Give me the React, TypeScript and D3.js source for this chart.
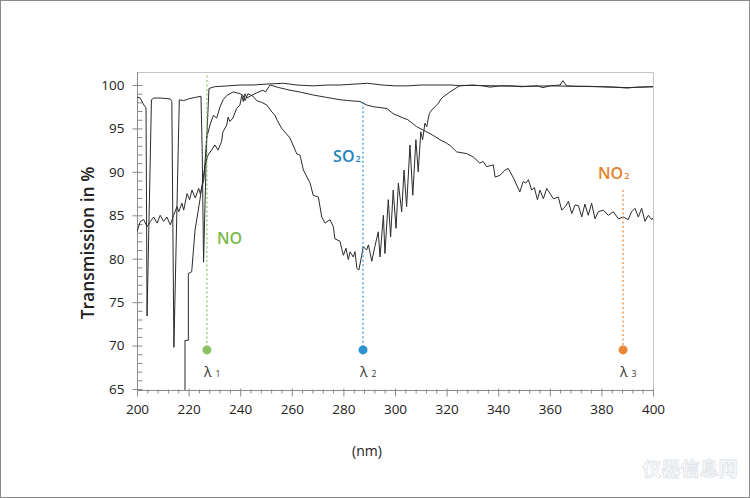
import React, { useEffect, useRef } from 'react';
import * as d3 from 'd3';

type Pt = [number, number];

// wavelength (nm), transmission (%)
const noSeries: Pt[] = [
    [200, 98.6], [201.2, 98.5], [202.3, 97.9], [203.1, 97.5], [203.5, 97.4],
    [203.9, 73.4], [205.6, 98.3], [206.5, 98.5], [209, 98.5], [212.9, 98.4],
    [213.5, 98.1], [214.3, 69.8], [216.4, 98.3], [218, 98.2], [220, 98.4],
    [223, 98.6], [224.8, 98.7], [225.3, 92], [225.8, 79.6], [227.0, 93.7],
    [227.9, 99.6], [230, 99.8], [235, 99.9], [240, 100.0], [245, 100.0],
    [250, 100.1], [256.7, 100.2], [262, 100.0], [268.2, 99.9], [274, 100.0],
    [278.7, 100.0], [284, 100.1], [289.5, 100.2], [295, 100.0], [300, 99.9],
    [305, 99.9], [310, 100.0], [317.4, 100.0], [322, 100.0], [325.2, 99.9],
    [330.2, 100.0], [334, 99.9], [336.8, 99.75], [340.7, 99.9], [345, 99.9],
    [349, 99.8], [355, 99.9], [357.4, 99.7], [360, 99.9], [364, 100.0],
    [365.1, 100.5], [366.5, 99.9], [370, 99.85], [375, 99.85], [380, 99.8],
    [385, 99.75], [389.9, 99.65], [394, 99.75], [398.8, 99.8], [400, 99.8],
];

const so2Series: Pt[] = [
    [200, 83.1], [201.3, 84.3], [202.6, 84.5], [203.9, 83.7], [205.2, 84.3],
    [206.5, 84.8], [207.8, 84.1], [209.0, 85.0], [210.3, 84.3], [211.6, 84.8],
    [212.9, 83.9], [214.2, 85.0], [215.5, 86.0], [216.2, 85.4], [217.4, 86.4],
    [218.1, 85.6], [219.4, 87.5], [220.4, 86.8], [221.3, 87.9], [222.6, 87.0],
    [223.9, 88.1], [224.5, 87.5], [225.9, 89.1], [227.0, 93.9], [228.3, 95.4],
    [229.6, 96.5], [230.9, 96.2], [232.2, 97.5], [233.4, 98.3], [234.8, 98.8],
    [237.3, 99.2], [239.9, 99.0], [241.1, 98.8], [241.9, 98.2], [243.0, 99.0],
    [245.0, 98.7], [246.4, 98.2], [248.3, 98.0], [250.3, 97.7], [252.0, 97.0],
    [253.5, 96.5], [254.2, 96.0], [256.1, 95.0], [259.3, 93.9], [261.9, 92.1],
    [263.2, 91.9], [264.5, 90.2], [267.1, 88.7], [268.3, 87.3], [270.3, 87.1],
    [271.6, 84.8], [272.9, 84.1], [274.8, 84.5], [276.1, 83.7], [276.7, 82.3],
    [278.7, 82.0], [279.3, 81.2], [280.0, 80.4], [281.0, 81.2], [281.9, 79.9],
    [282.6, 80.8], [283.8, 80.2], [284.5, 80.8], [285.2, 78.9], [286.0, 78.7],
    [287.1, 80.4], [287.7, 81.4], [289.0, 81.0], [289.7, 81.6], [291.0, 79.7],
    [292.2, 81.4], [293.5, 83.1], [294.2, 80.2], [295.5, 85.0], [296.1, 80.6],
    [297.4, 86.8], [298.3, 82.5], [299.3, 87.9], [300.4, 83.5], [301.3, 88.7],
    [302.6, 85.4], [303.5, 90.2], [304.5, 86.0], [305.8, 93.1], [306.9, 87.3],
    [308.1, 93.7], [309.0, 90.0], [310.0, 94.6], [310.7, 93.7], [311.6, 95.6],
    [312.3, 95.2], [313.3, 96.7], [314.2, 97.1], [315.5, 97.5], [316.8, 97.9],
    [318.1, 98.5], [321.3, 99.2], [325.2, 99.95], [330, 99.95], [340, 99.9],
    [350, 99.85], [360, 99.9], [370, 99.85], [380, 99.8], [390, 99.7],
    [400, 99.8],
];

const no2Series: Pt[] = [
    [218.6, 60], [218.6, 70.6], [219.9, 70.6], [219.9, 78.3], [221.2, 78.5],
    [222.5, 83.3], [224.4, 86.8], [226.4, 90.8], [227.5, 91.9], [230.2, 93.1],
    [231.4, 92.5], [232.8, 93.5], [233.3, 94.6], [234.8, 95.4], [235.3, 96.3],
    [236.0, 95.8], [237.2, 96.2], [238.6, 97.3], [239.9, 97.7], [240.6, 98.8],
    [241.2, 98.1], [241.9, 99.0], [242.5, 98.5], [243.8, 98.7], [246.4, 99.1],
    [248.8, 99.4], [249.8, 99.2], [251.6, 100.0], [255, 99.7], [259.3, 99.4],
    [263, 99.2], [268.3, 98.85], [273, 98.6], [278.7, 98.3], [282, 98.2],
    [286.4, 98.1], [289, 97.7], [291.6, 97.5], [296.8, 97.3], [299.3, 96.7],
    [303.2, 96.2], [305, 96.0], [308.4, 95.2], [311.0, 94.8], [314.8, 94.2],
    [317.4, 93.7], [320.0, 93.3], [321.5, 93.0], [323.9, 92.3], [327.8, 92.1],
    [330.4, 91.7], [332.9, 91.0], [334.2, 91.2], [335.5, 90.6], [338.1, 90.8],
    [338.8, 89.4], [340.7, 89.6], [342.6, 90.2], [343.9, 90.4], [345.9, 89.3],
    [348.4, 87.7], [349.7, 88.9], [350.7, 88.7], [351.7, 89.1], [353.0, 87.9],
    [354.0, 88.2], [355.2, 86.8], [356.2, 87.9], [357.5, 86.9], [358.8, 88.1],
    [360.1, 87.5], [361.4, 86.9], [363.3, 87.1], [364.6, 85.6], [366.0, 86.0],
    [367.2, 86.6], [368.5, 85.2], [369.8, 86.2], [371.1, 86.1], [372.4, 84.8],
    [373.6, 86.3], [374.9, 85.0], [376.2, 86.4], [377.5, 84.6], [378.8, 85.4],
    [380.7, 85.6], [382.7, 85.0], [384.6, 85.4], [386.6, 84.6], [388.5, 84.8],
    [390.4, 84.5], [391.7, 85.4], [393.0, 85.8], [394.3, 84.8], [395.6, 85.8],
    [396.9, 84.3], [398.2, 85.0], [399.5, 84.5], [400, 84.7],
];

const xTicks = [200, 220, 240, 260, 280, 300, 320, 340, 360, 380, 400];
const yTicks = [65, 70, 75, 80, 85, 90, 95, 100];

const lambdaNames = ['1', '2', '3'];
const lambdaNm = [227.1, 287.6, 388.4];
const lambdaTop = [101.1, 98.0, 87.9];
const lambdaColors = ['#8cc262', '#2b93d1', '#e8873a'];
const dotValue = 69.5;

const gasNames = ['NO', 'SO', 'NO'];
const gasSubs = ['', '2', '2'];
const gasNm = [231, 276, 378.7];
const gasVal = [81.7, 91.1, 89.2];
const gasColors = ['#7dba4c', '#1f83bf', '#e5822e'];

const W = 750;
const H = 498;
const plot = { left: 137, right: 653, top: 72, bottom: 390 };
const FONT = "'Open Sans', 'DejaVu Sans', sans-serif";

const App: React.FC = () => {
    const svgRef = useRef<SVGSVGElement>(null);

    useEffect(() => {
        if (!svgRef.current) return;
        const svg = d3.select(svgRef.current);
        svg.selectAll('*').remove();

        const x = d3.scaleLinear().domain([200, 400]).range([plot.left, plot.right]);
        const y = d3.scaleLinear().domain([65, 100]).range([389, 85]);

        svg.append('rect')
            .attr('x', 0.5).attr('y', 0.5)
            .attr('width', W - 1).attr('height', H - 1)
            .attr('fill', '#fff').attr('stroke', '#8a8a8a');

        // frame top / right
        svg.append('path')
            .attr('d', `M${plot.left},${plot.top + 0.5}H${plot.right + 0.5}V${plot.bottom}`)
            .attr('fill', 'none').attr('stroke', '#c4c4c4');

        // y axis
        const yMinor = d3.range(65, 101, 1).filter((v) => v % 5 !== 0);
        const gyMinor = svg.append('g').attr('transform', `translate(${plot.left + 0.5},0)`)
            .call(d3.axisLeft(y).tickValues(yMinor).tickSize(-5).tickFormat(() => ''));
        gyMinor.select('.domain').remove();
        gyMinor.selectAll('line').attr('stroke', '#8a8a8a');

        const gy = svg.append('g').attr('transform', `translate(${plot.left + 0.5},0)`)
            .call(d3.axisLeft(y).tickValues(yTicks).tickSize(5).tickPadding(8));
        gy.select('.domain').remove();
        gy.selectAll('line').attr('x1', 5).attr('stroke', '#8a8a8a');
        gy.selectAll('text')
            .style('font-family', FONT).style('font-size', '13.5px').attr('fill', '#222');

        // x axis
        const xMinor = d3.range(200, 401, 4).filter((v) => v % 20 !== 0);
        const gxMinor = svg.append('g').attr('transform', `translate(0,${plot.bottom + 0.5})`)
            .call(d3.axisBottom(x).tickValues(xMinor).tickSize(3).tickFormat(() => ''));
        gxMinor.select('.domain').remove();
        gxMinor.selectAll('line').attr('y1', -1).attr('stroke', '#8a8a8a');

        const gx = svg.append('g').attr('transform', `translate(0,${plot.bottom + 0.5})`)
            .call(d3.axisBottom(x).tickValues(xTicks).tickSize(6).tickPadding(8));
        gx.select('.domain').remove();
        gx.selectAll('line').attr('y1', -2).attr('stroke', '#8a8a8a');
        gx.selectAll('text')
            .style('font-family', FONT).style('font-size', '13.5px').attr('fill', '#222');

        // axis lines
        svg.append('path')
            .attr('d', `M${plot.left + 0.5},${plot.top}V${plot.bottom + 0.5}H${plot.right + 0.5}`)
            .attr('fill', 'none').attr('stroke', '#8a8a8a');

        // curves
        svg.append('clipPath').attr('id', 'plot-clip')
            .append('rect')
            .attr('x', plot.left).attr('y', plot.top)
            .attr('width', plot.right - plot.left).attr('height', plot.bottom - plot.top);

        const line = d3.line<Pt>().x((d) => x(d[0])).y((d) => y(d[1]));
        const curves = svg.append('g').attr('clip-path', 'url(#plot-clip)');
        [no2Series, so2Series, noSeries].forEach((s) => {
            curves.append('path')
                .attr('d', line(s))
                .attr('fill', 'none')
                .attr('stroke', '#2b2b2b')
                .attr('stroke-width', 1)
                .attr('stroke-linejoin', 'round');
        });

        // wavelength markers
        lambdaNm.forEach((nm, i) => {
            svg.append('line')
                .attr('x1', x(nm)).attr('x2', x(nm))
                .attr('y1', y(lambdaTop[i])).attr('y2', y(dotValue))
                .attr('stroke', lambdaColors[i])
                .attr('stroke-width', 1.2)
                .attr('stroke-dasharray', '2,2.5');
            svg.append('circle')
                .attr('cx', x(nm)).attr('cy', y(dotValue)).attr('r', 4.5)
                .attr('fill', lambdaColors[i]);
            const t = svg.append('text')
                .attr('x', x(nm) - 3).attr('y', y(dotValue) + 27)
                .style('font-family', FONT);
            t.append('tspan').attr('fill', '#333').style('font-size', '14px').text('λ');
            t.append('tspan').attr('fill', '#333').attr('dx', 4)
                .style('font-size', '8.5px').text(lambdaNames[i]);
        });

        // gas labels
        gasNames.forEach((name, i) => {
            const t = svg.append('text')
                .attr('x', x(gasNm[i])).attr('y', y(gasVal[i]))
                .style('font-family', FONT).style('font-weight', 600)
                .attr('fill', gasColors[i]);
            t.append('tspan').style('font-size', '16px').text(name);
            if (gasSubs[i]) {
                t.append('tspan').attr('dx', 1).style('font-size', '9px').text(gasSubs[i]);
            }
        });

        // axis titles
        svg.append('text')
            .attr('transform', `translate(94,243) rotate(-90)`)
            .attr('text-anchor', 'middle')
            .style('font-family', FONT).style('font-size', '17.5px').style('font-weight', 600)
            .attr('fill', '#222')
            .text('Transmission in %');
        svg.append('text')
            .attr('x', 367).attr('y', 456)
            .attr('text-anchor', 'middle')
            .style('font-family', FONT).style('font-size', '14px')
            .attr('fill', '#222')
            .text('(nm)');

        // watermark
        svg.append('text')
            .attr('x', 690).attr('y', 476)
            .attr('text-anchor', 'middle')
            .style('font-family', "'Noto Sans CJK SC', sans-serif")
            .style('font-size', '19px').style('font-weight', 700)
            .attr('fill', '#fff').attr('stroke', '#dde3e8').attr('stroke-width', 0.8)
            .text('仪器信息网');
    }, []);

    return (
        <svg
            ref={svgRef}
            width={W}
            height={H}
            style={{ position: 'absolute', left: 0, top: 0, display: 'block' }}
        />
    );
};

export default App;
